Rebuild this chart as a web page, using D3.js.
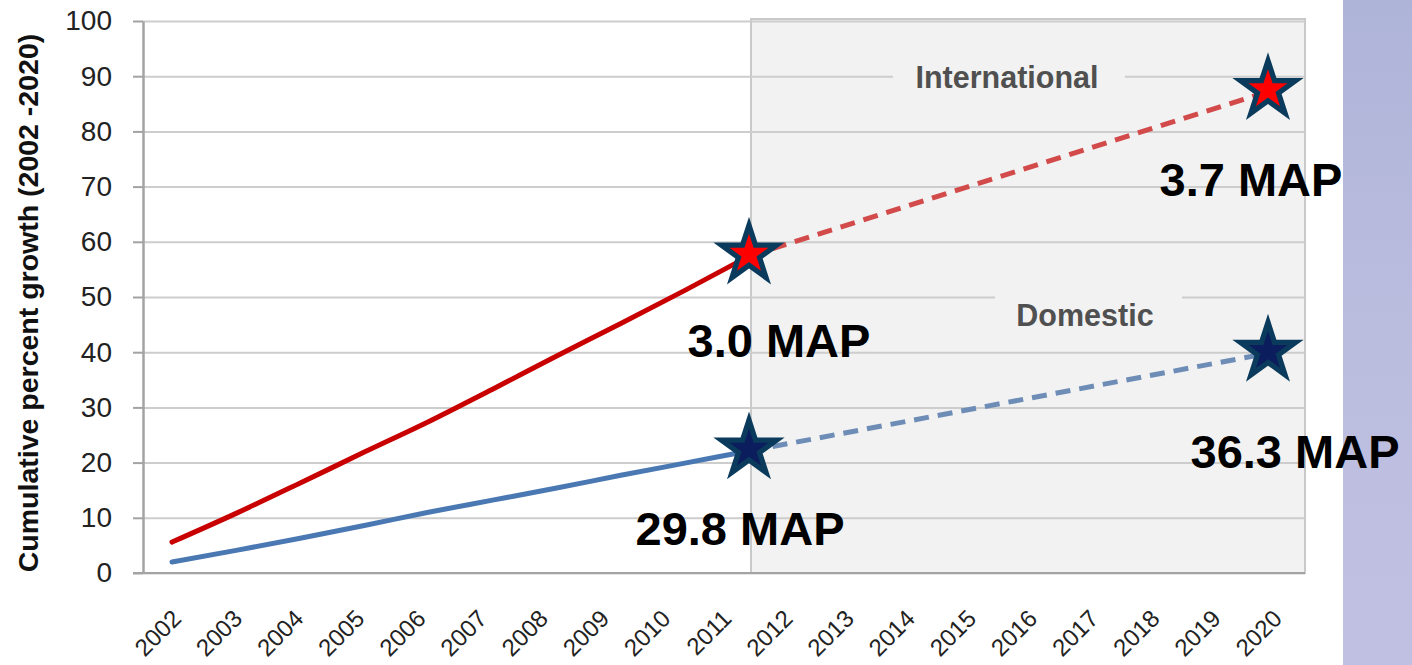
<!DOCTYPE html>
<html>
<head>
<meta charset="utf-8">
<script src="https://cdn.jsdelivr.net/npm/d3@7/dist/d3.min.js"></script>
<style>
  html, body { margin: 0; padding: 0; background: #ffffff; }
  svg { display: block; }
  text { font-family: "Liberation Sans", Arial, sans-serif; }
</style>
</head>
<body>
<svg id="chart" width="1412" height="665"></svg>
<script>
// Axis categories and ticks
const years = ["2002","2003","2004","2005","2006","2007","2008","2009","2010","2011",
               "2012","2013","2014","2015","2016","2017","2018","2019","2020"];
const yTicks = [0, 10, 20, 30, 40, 50, 60, 70, 80, 90, 100];

// Observed cumulative growth, 2002-2011 (%)
const histYears = [2002, 2003, 2004, 2005, 2006, 2007, 2008, 2009, 2010, 2011];
const internationalHist = [5.6, 10.8, 16.3, 21.9, 27.4, 33.3, 39.3, 45.2, 51.2, 57.4];
const domesticHist      = [2.0, 4.1, 6.3, 8.6, 11.0, 13.2, 15.4, 17.7, 19.9, 22.1];

// Forecast, 2011-2020 (%)
const forecastYears = [2011, 2020];
const internationalForecast = [57.4, 87.2];
const domesticForecast      = [22.1, 39.8];

// Passenger totals shown next to the markers
const internationalMarkers = ["3.0 MAP", "3.7 MAP"];
const domesticMarkers      = ["29.8 MAP", "36.3 MAP"];
const seriesNames = ["International", "Domestic"];

// ---- layout ----
const plot = { left: 143, right: 1305, top: 21, bottom: 573 };
const svg = d3.select("#chart");

// category axis (labels centred in bands)
const xBand = d3.scaleBand().domain(years).range([plot.left, plot.right]);
// timeline used for the lines and markers
const xPos = d3.scaleLinear().domain([2002, 2011, 2020]).range([172, 749, 1268]);
const y = d3.scaleLinear().domain([0, 100]).range([plot.bottom, plot.top]);

// side decoration panel
const defs = svg.append("defs");
const grad = defs.append("linearGradient").attr("id", "panelGrad")
  .attr("x1", 0).attr("y1", 0).attr("x2", 0).attr("y2", 1);
grad.append("stop").attr("offset", "0%").attr("stop-color", "#aeb4d8");
grad.append("stop").attr("offset", "50%").attr("stop-color", "#bbbddf");
grad.append("stop").attr("offset", "100%").attr("stop-color", "#c0c0e2");
svg.append("rect").attr("x", 1343).attr("y", 0).attr("width", 69).attr("height", 665)
  .attr("fill", "url(#panelGrad)");

// forecast period shading
const shadeX = xPos(2011) + 2;
svg.append("rect")
  .attr("x", shadeX).attr("y", plot.top - 2)
  .attr("width", plot.right - shadeX).attr("height", plot.bottom - plot.top + 2)
  .attr("fill", "#f2f2f2").attr("stroke", "#c9c9c9").attr("stroke-width", 2);

// gridlines
svg.append("g").attr("class", "grid")
  .attr("transform", `translate(${plot.left},0)`)
  .call(d3.axisLeft(y).tickValues(yTicks).tickSize(-(plot.right - plot.left)).tickFormat(""))
  .call(g => g.select(".domain").remove())
  .call(g => g.selectAll("line").attr("stroke", "#cdcdcd").attr("stroke-width", 2));

// y axis
svg.append("g")
  .attr("transform", `translate(${plot.left},0)`)
  .call(d3.axisLeft(y).tickValues(yTicks).tickSize(10).tickPadding(21).tickSizeOuter(0))
  .call(g => g.select(".domain").attr("stroke", "#a3a3a3").attr("stroke-width", 2.5))
  .call(g => g.selectAll("line").attr("stroke", "#a3a3a3").attr("stroke-width", 2))
  .call(g => g.selectAll("text").attr("font-size", 28).attr("fill", "#222"));

// x axis
svg.append("g")
  .attr("transform", `translate(0,${plot.bottom})`)
  .call(d3.axisBottom(xBand).tickSize(0).tickSizeOuter(0))
  .call(g => g.select(".domain").attr("stroke", "#a3a3a3").attr("stroke-width", 2)
                 .attr("d", `M${plot.left - 10},0H${plot.right}`))
  .call(g => g.selectAll("text")
    .attr("font-size", 24).attr("fill", "#222")
    .attr("text-anchor", "end").attr("y", 0).attr("dy", 0)
    .attr("transform", "translate(9,47) rotate(-45)"));

// y axis title
svg.append("text")
  .attr("transform", "translate(38,303) rotate(-90)")
  .attr("text-anchor", "middle").attr("font-size", 28.5).attr("font-weight", "bold")
  .attr("fill", "#111")
  .text("Cumulative percent growth (2002 -2020)");

// series name labels on the forecast area
const nameLabels = [
  { name: seriesNames[0], cx: 1007, base: 88, box: [893, 64, 232, 26] },
  { name: seriesNames[1], cx: 1085, base: 326, box: [995, 290, 187, 40] }
];
nameLabels.forEach(l => {
  svg.append("rect").attr("x", l.box[0]).attr("y", l.box[1])
    .attr("width", l.box[2]).attr("height", l.box[3]).attr("fill", "#f2f2f2");
  svg.append("text").attr("x", l.cx).attr("y", l.base)
    .attr("text-anchor", "middle").attr("font-size", 30.5).attr("font-weight", "bold")
    .attr("fill", "#505050").text(l.name);
});

// lines
const line = d3.line().x(d => xPos(d[0])).y(d => y(d[1]));
const smooth = d3.line().x(d => xPos(d[0])).y(d => y(d[1])).curve(d3.curveMonotoneX);
const zip = (xs, vs) => xs.map((x, i) => [x, vs[i]]);

svg.append("path").datum(zip(forecastYears, internationalForecast))
  .attr("d", line).attr("fill", "none").attr("stroke", "#d24a4a")
  .attr("stroke-width", 5).attr("stroke-dasharray", "15 9");
svg.append("path").datum(zip(forecastYears, domesticForecast))
  .attr("d", line).attr("fill", "none").attr("stroke", "#6e8db6")
  .attr("stroke-width", 5).attr("stroke-dasharray", "15 9");

svg.append("path").datum(zip(histYears, internationalHist))
  .attr("d", smooth).attr("fill", "none").attr("stroke", "#c80000")
  .attr("stroke-width", 5).attr("stroke-linecap", "round").attr("stroke-linejoin", "round");
svg.append("path").datum(zip(histYears, domesticHist))
  .attr("d", smooth).attr("fill", "none").attr("stroke", "#4a78b2")
  .attr("stroke-width", 5).attr("stroke-linecap", "round").attr("stroke-linejoin", "round");

// star markers
function starPath(R) {
  const pts = d3.range(10).map(i => {
    const r = i % 2 === 0 ? R : R * 0.382;
    const a = -Math.PI / 2 + i * Math.PI / 5;
    return [r * Math.cos(a), r * Math.sin(a)];
  });
  return "M" + pts.map(p => p.join(",")).join("L") + "Z";
}
const markerSets = [
  { values: [internationalForecast[0], internationalForecast[1]], fill: "#ff0000", labels: internationalMarkers,
    offsets: [[30, 101], [-17, 104]] },
  { values: [domesticForecast[0], domesticForecast[1]], fill: "#0b1d5c", labels: domesticMarkers,
    offsets: [[-9, 94], [27, 115]] }
];
markerSets.forEach(s => {
  forecastYears.forEach((yr, i) => {
    const cx = xPos(yr), cy = y(s.values[i]);
    const g = svg.append("g").attr("transform", `translate(${cx},${cy - 2})`);
    g.append("path").attr("d", starPath(37.5)).attr("fill", "#0b3b5c");
    g.append("path").attr("d", starPath(20.5)).attr("fill", s.fill);
    svg.append("text")
      .attr("x", cx + s.offsets[i][0]).attr("y", cy + s.offsets[i][1])
      .attr("text-anchor", "middle").attr("font-size", 47).attr("font-weight", "bold")
      .attr("fill", "#000").text(s.labels[i]);
  });
});
</script>
</body>
</html>
